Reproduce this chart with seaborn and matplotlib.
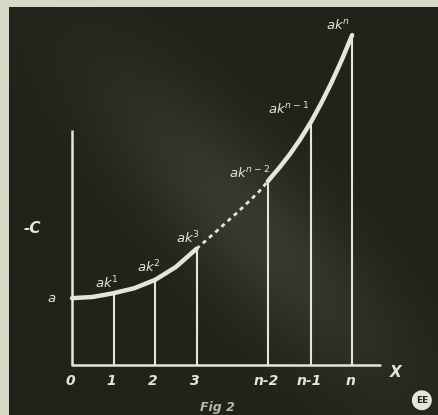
import numpy as np
import pandas as pd
import seaborn as sns
import matplotlib.pyplot as plt
from matplotlib.patches import Circle

# ordinates at the marked points 0, 1, 2, 3, n-2, n-1, n
positions = [0, 1, 2, 3, 4.72, 5.76, 6.75]
heights = [1.61, 1.73, 2.05, 2.82, 4.43, 5.86, 7.95]
tick_labels = ["0", "1", "2", "3", "n-2", "n-1", "n"]
point_labels = [r"$a$", r"$ak^{1}$", r"$ak^{2}$", r"$ak^{3}$",
                r"$ak^{n-2}$", r"$ak^{n-1}$", r"$ak^{n}$"]

# curve
curve_x = [0, 0.5, 1.0, 1.5, 2.0, 2.5, 3.0, 3.5, 4.0, 4.5, 4.72,
           5.0, 5.25, 5.5, 5.76, 6.0, 6.25, 6.5, 6.75]
curve_y = [1.61, 1.64, 1.73, 1.85, 2.05, 2.36, 2.80, 3.24, 3.69, 4.17, 4.43,
           4.76, 5.08, 5.44, 5.86, 6.30, 6.80, 7.35, 7.95]

curve = pd.DataFrame({"x": curve_x, "y": curve_y})
part1 = curve[curve.x <= 3.0]
part2 = curve[(curve.x >= 3.0) & (curve.x <= 4.72)]
part3 = curve[curve.x >= 4.72]

chalk = "#e6e6d8"
board = "#23221a"

sns.set_style("dark")
fig = plt.figure(figsize=(4.38, 4.15), dpi=100, facecolor="#d8d8c8")
ax = fig.add_axes([9 / 438, 0, 429 / 438, 408 / 415])
ax.set_facecolor(board)
for s in ax.spines.values():
    s.set_visible(False)

# faint haze running from upper left to lower right on the photo
gx, gy = np.meshgrid(np.linspace(0, 1, 200), np.linspace(0, 1, 200))
band = np.exp(-((gx - 0.9 * gy - 0.08) / 0.2) ** 2)
band *= np.exp(-(((gx + gy) / 2 - 0.55) / 0.35) ** 2)
ax.imshow(band, extent=(-1.518, 8.819, -1.205, 8.627), cmap=sns.blend_palette(
    [board, "#3a392f"], as_cmap=True), aspect="auto", zorder=0, vmin=0, vmax=1)

# axes
ax.plot([0, 0], [0, 5.66], color=chalk, lw=1.8, solid_capstyle="butt")
ax.plot([0, 7.42], [0, 0], color=chalk, lw=1.8)

# ordinates
ax.vlines(positions[1:], 0, heights[1:], color=chalk, lw=1.5)

sns.lineplot(data=part1, x="x", y="y", ax=ax, color=chalk, lw=3.2, sort=False)
sns.lineplot(data=part2, x="x", y="y", ax=ax, color=chalk, lw=2.0, sort=False,
             dashes=False, linestyle=(0, (1.5, 1.5)))
sns.lineplot(data=part3, x="x", y="y", ax=ax, color=chalk, lw=3.2, sort=False)

ax.set_xlim(-1.518, 8.819)
ax.set_ylim(-1.205, 8.627)
ax.set_xticks([])
ax.set_yticks([])
ax.set_xlabel("")
ax.set_ylabel("")

for p, t in zip(positions, tick_labels):
    ax.text(p - 0.05, -0.38, t, color=chalk, fontsize=10, style="italic",
            fontweight="bold", ha="center", va="center")

offsets = [(-0.38, 0.0), (-0.15, 0.25), (-0.15, 0.3), (-0.2, 0.25),
           (-0.45, 0.2), (-0.55, 0.3), (-0.35, 0.25)]
for p, h, lab, (dx, dy) in zip(positions, heights, point_labels, offsets):
    ax.text(p + dx, h + dy, lab, color=chalk, fontsize=9.5,
            ha="right" if p == 0 else "center", va="center")

ax.text(7.8, -0.17, "X", color=chalk, fontsize=11, style="italic",
        fontweight="bold", ha="center", va="center")
ax.text(-0.95, 3.3, "-C", color=chalk, fontsize=11, style="italic",
        fontweight="bold", ha="center", va="center")
ax.text(3.5, -1.03, "Fig 2", color="#b8b8a8", fontsize=9, style="italic",
        fontweight="bold", ha="center", va="center")

ax.add_patch(Circle((8.43, -0.85), 0.24, facecolor=chalk, edgecolor="none"))
ax.text(8.43, -0.85, "EE", color=board, fontsize=6.5, fontweight="bold",
        ha="center", va="center")

fig.savefig("out.png", dpi=100, facecolor=fig.get_facecolor())
